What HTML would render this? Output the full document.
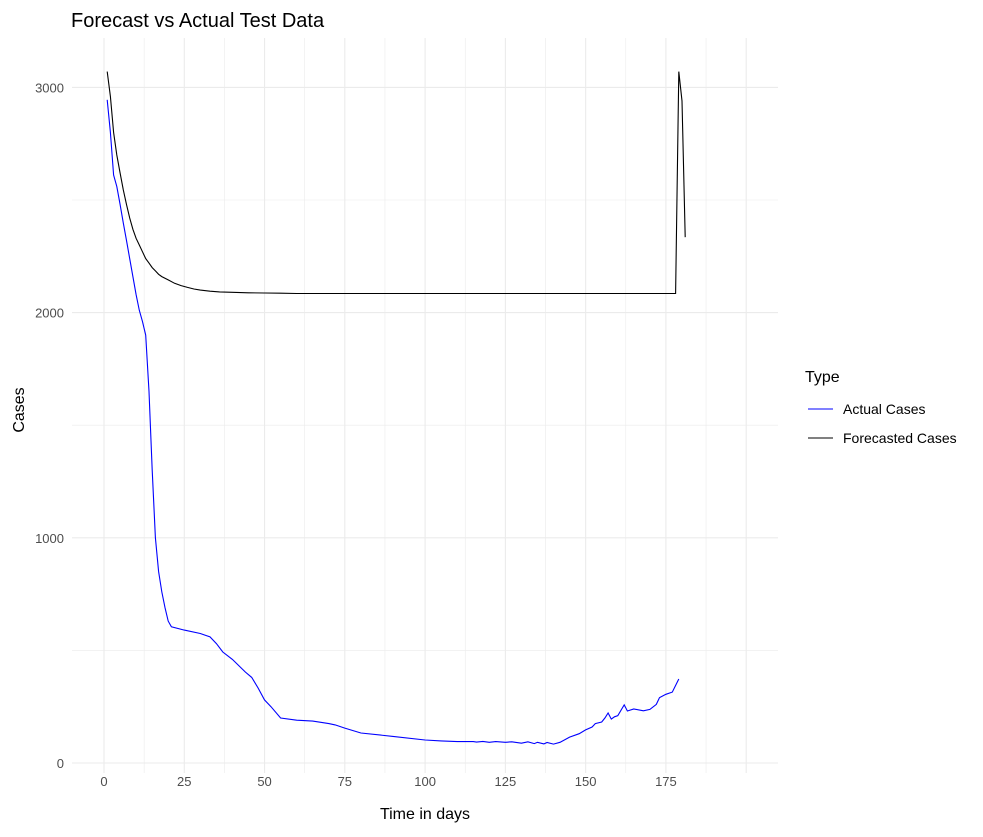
<!DOCTYPE html>
<html><head><meta charset="utf-8"><style>
html,body{margin:0;padding:0;background:#fff;}
svg text{font-family:"Liberation Sans",sans-serif;}
</style></head><body>
<svg id="chart" width="983" height="832" xmlns="http://www.w3.org/2000/svg">
<text x="71" y="27" font-size="20" fill="#000">Forecast vs Actual Test Data</text>
<g id="grid"></g>
<g id="ticks"></g>
<g id="series"></g>
<text x="425" y="819" font-size="16" text-anchor="middle" fill="#000">Time in days</text>
<text transform="translate(24,410) rotate(-90)" font-size="16" text-anchor="middle" fill="#000">Cases</text>
<g>
<text x="805" y="382" font-size="16" fill="#000">Type</text>
<line x1="808" y1="409" x2="833" y2="409" stroke="#0000ff" stroke-width="1.1"/>
<text x="843" y="414" font-size="14" fill="#000">Actual Cases</text>
<line x1="808" y1="438" x2="833" y2="438" stroke="#000" stroke-width="1.1"/>
<text x="843" y="443" font-size="14" fill="#000">Forecasted Cases</text>
</g>
</svg>
<script>
const actualDays=[1,2,3,4,5,6,7,8,9,10,11,12,13,14,15,16,17,18,19,20,21,25,30,33,35,37,40,44,46,48,50,52,55,60,65,70,72,75,80,90,100,105,110,115,116,118,120,122,125,127,130,132,134,135,137,138,140,142,145,148,150,152,153,155,156,157,158,159,160,162,163,165,168,170,172,173,175,177,179];
const actualValues=[2945,2800,2611,2560,2480,2398,2320,2240,2160,2080,2010,1960,1900,1650,1300,1000,850,760,690,630,605,590,575,560,530,493,460,404,380,333,280,250,200,190,186,175,169,155,133,118,102,98,95,95,93,96,92,95,92,94,88,94,86,92,85,91,84,92,115,130,147,160,175,182,200,222,195,205,210,258,231,240,232,238,260,290,305,315,373];
const forecastDays=[1,2,3,4,5,6,7,8,9,10,11,12,13,14,15,16,17,18,20,22,24,26,28,30,33,36,40,45,50,55,60,100,150,178,179,180,181];
const forecastValues=[3070,2960,2800,2700,2620,2545,2480,2420,2370,2330,2300,2270,2240,2220,2200,2185,2170,2160,2145,2130,2120,2112,2105,2100,2095,2092,2090,2088,2087,2086,2085,2085,2085,2085,3070,2940,2335];
const xTicks=[0,25,50,75,100,125,150,175];
const yTicks=[0,1000,2000,3000];

const NS="http://www.w3.org/2000/svg";
const X0=104, XS=3.211, Y0=763, YS=0.2252;
const xs=d=>X0+d*XS, ys=v=>Y0-v*YS;
const L=72,R=778,T=38,B=773;
const grid=document.getElementById('grid'), ticks=document.getElementById('ticks'), ser=document.getElementById('series');
function line(p,x1,y1,x2,y2,c,w){const l=document.createElementNS(NS,'line');l.setAttribute('x1',x1);l.setAttribute('y1',y1);l.setAttribute('x2',x2);l.setAttribute('y2',y2);l.setAttribute('stroke',c);l.setAttribute('stroke-width',w);p.appendChild(l);return l;}
for(let d=0;d<=200;d+=12.5){
  const l=line(grid,xs(d),T,xs(d),B,'#ebebeb',d%25===0?1.1:0.6);
  
  
}
for(let v=0;v<=3000;v+=500){
  const l=line(grid,L,ys(v),R,ys(v),'#ebebeb',v%1000===0?1.1:0.6);
  
  
}
xTicks.forEach(d=>{
  const t=document.createElementNS(NS,'text');
  t.setAttribute('x',xs(d));t.setAttribute('y',786);t.setAttribute('font-size','13');t.setAttribute('fill','#4d4d4d');t.setAttribute('text-anchor','middle');
  t.textContent=d;
  
  
  ticks.appendChild(t);
});
yTicks.forEach(v=>{
  const t=document.createElementNS(NS,'text');
  t.setAttribute('x',64);t.setAttribute('y',ys(v)+5);t.setAttribute('font-size','13');t.setAttribute('fill','#4d4d4d');t.setAttribute('text-anchor','end');
  t.textContent=v;
  
  
  ticks.appendChild(t);
});
function path(days,vals,color,name){
  const p=document.createElementNS(NS,'polyline');
  p.setAttribute('points',days.map((d,i)=>xs(d).toFixed(1)+','+ys(vals[i]).toFixed(1)).join(' '));
  p.setAttribute('fill','none');p.setAttribute('stroke',color);p.setAttribute('stroke-width','1.1');
  
  
  ser.appendChild(p);
}
path(actualDays,actualValues,'#0000ff','actual-cases-line');
path(forecastDays,forecastValues,'#000000','forecasted-cases-line');
</script>
</body></html>
